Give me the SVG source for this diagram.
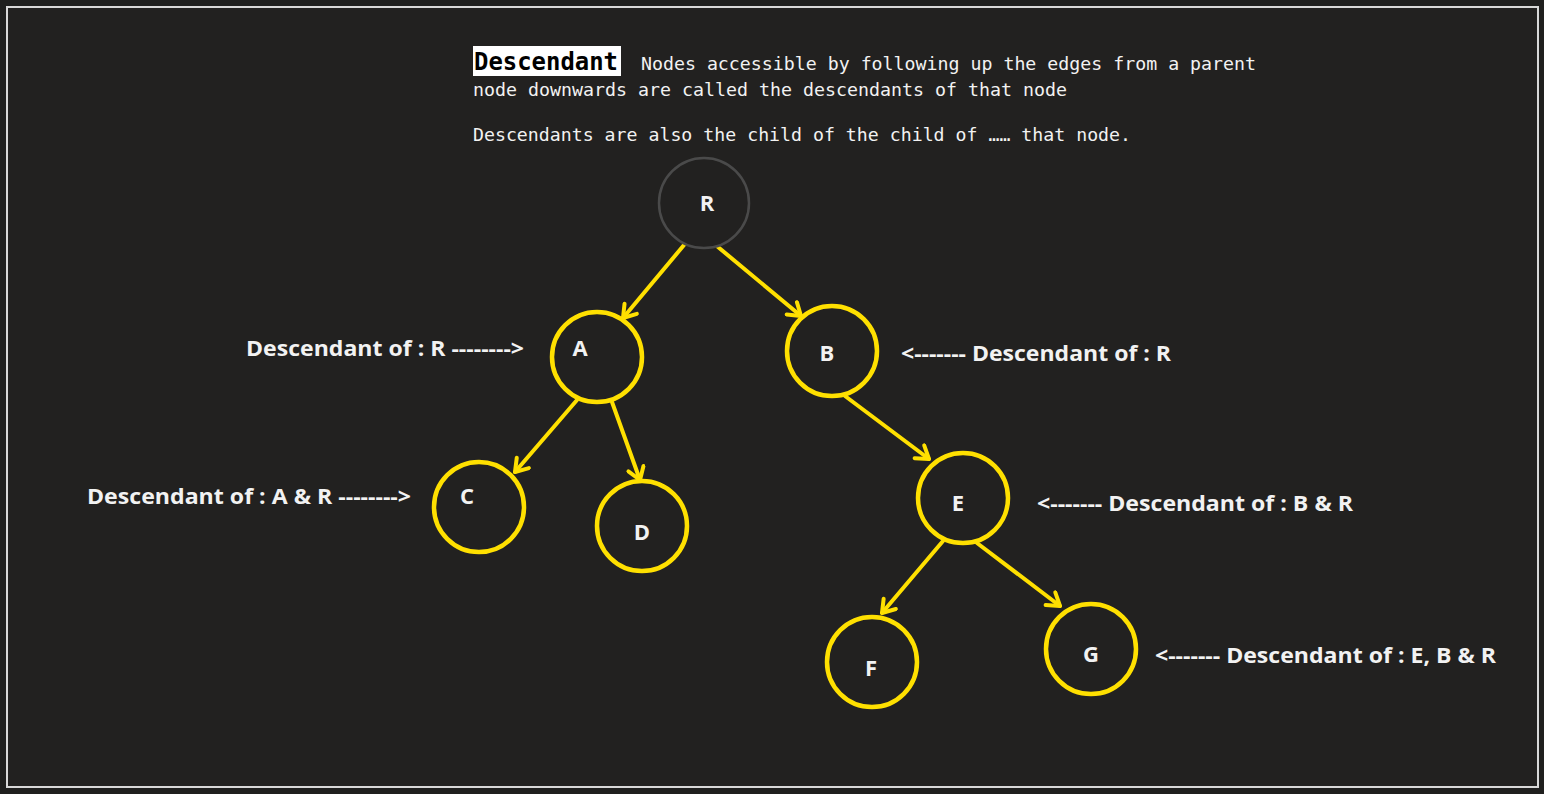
<svg xmlns="http://www.w3.org/2000/svg" width="1544" height="794" viewBox="0 0 1544 794">
<defs>
<marker id="arr" viewBox="0 0 20 20" refX="16" refY="10" markerWidth="20" markerHeight="20" markerUnits="userSpaceOnUse" orient="auto">
<path d="M4,2 L16,10 L4,18" fill="none" stroke="#FFE000" stroke-width="4" stroke-linecap="round" stroke-linejoin="round"/>
</marker>
<style>
.node{fill:none;stroke:#FFE000;stroke-width:4.5}
.root{fill:none;stroke:#4a4a4a;stroke-width:2.5}
.lt{font-family:"Open Sans","Liberation Sans",sans-serif;font-weight:bold;font-size:22px;fill:#f2f2f2}
.lab{font-family:"Open Sans","Liberation Sans",sans-serif;font-weight:bold;font-size:22px;fill:#f2f2f2}
.mono{font-family:"DejaVu Sans Mono","Liberation Mono",monospace;font-size:18px;fill:#f2f2f2}
.edge{stroke:#FFE000;stroke-width:4;stroke-linecap:round;fill:none}
</style>
</defs>
<rect x="0" y="0" width="1544" height="794" fill="#1f1f1e"/>
<rect x="7" y="7" width="1531" height="780" fill="#222120" stroke="#d8d8d8" stroke-width="2"/>

<g id="header">
<rect x="473" y="46" width="148" height="30" fill="#ffffff"/>
<text x="474" y="70" font-family="DejaVu Sans Mono,Liberation Mono,monospace" font-weight="bold" font-size="24" fill="#000" textLength="144" lengthAdjust="spacingAndGlyphs">Descendant</text>
<text class="mono" x="641" y="70" textLength="615" lengthAdjust="spacingAndGlyphs">Nodes accessible by following up the edges from a parent</text>
<text class="mono" x="473" y="96" textLength="594" lengthAdjust="spacingAndGlyphs">node downwards are called the descendants of that node</text>
<text class="mono" x="473" y="141" textLength="658" lengthAdjust="spacingAndGlyphs">Descendants are also the child of the child of …… that node.</text>
</g>

<g id="connectors">
<line class="edge" x1="684" y1="245" x2="623" y2="318" marker-end="url(#arr)"/>
<line class="edge" x1="718" y1="247" x2="801" y2="316" marker-end="url(#arr)"/>
<line class="edge" x1="577" y1="400" x2="515" y2="472" marker-end="url(#arr)"/>
<line class="edge" x1="612" y1="402" x2="640" y2="480" marker-end="url(#arr)"/>
<line class="edge" x1="845" y1="396" x2="929" y2="459" marker-end="url(#arr)"/>
<line class="edge" x1="943" y1="541" x2="882" y2="613" marker-end="url(#arr)"/>
<line class="edge" x1="977" y1="543" x2="1060" y2="606" marker-end="url(#arr)"/>
</g>

<g id="node-R"><circle class="root" cx="704" cy="203" r="45"/><text class="lt" x="707" y="211" text-anchor="middle">R</text></g>
<g id="node-A"><circle class="node" cx="597" cy="357" r="45"/><text class="lt" x="580" y="356" text-anchor="middle">A</text></g>
<g id="node-B"><circle class="node" cx="832" cy="351" r="45"/><text class="lt" x="827" y="361" text-anchor="middle">B</text></g>
<g id="node-C"><circle class="node" cx="479" cy="507" r="45"/><text class="lt" x="467" y="504" text-anchor="middle">C</text></g>
<g id="node-D"><circle class="node" cx="642" cy="526" r="45"/><text class="lt" x="642" y="540" text-anchor="middle">D</text></g>
<g id="node-E"><circle class="node" cx="963" cy="498" r="45"/><text class="lt" x="958" y="511" text-anchor="middle">E</text></g>
<g id="node-F"><circle class="node" cx="872" cy="662" r="45"/><text class="lt" x="871" y="676" text-anchor="middle">F</text></g>
<g id="node-G"><circle class="node" cx="1091" cy="649" r="45"/><text class="lt" x="1091" y="662" text-anchor="middle">G</text></g>

<g id="labels">
<text class="lab" x="246" y="356" textLength="278" lengthAdjust="spacingAndGlyphs">Descendant of : R --------&gt;</text>
<text class="lab" x="901" y="361" textLength="270" lengthAdjust="spacingAndGlyphs">&lt;------- Descendant of : R</text>
<text class="lab" x="87" y="504" textLength="324" lengthAdjust="spacingAndGlyphs">Descendant of : A &amp; R --------&gt;</text>
<text class="lab" x="1037" y="511" textLength="316" lengthAdjust="spacingAndGlyphs">&lt;------- Descendant of : B &amp; R</text>
<text class="lab" x="1155" y="663" textLength="341" lengthAdjust="spacingAndGlyphs">&lt;------- Descendant of : E, B &amp; R</text>
</g>
</svg>
